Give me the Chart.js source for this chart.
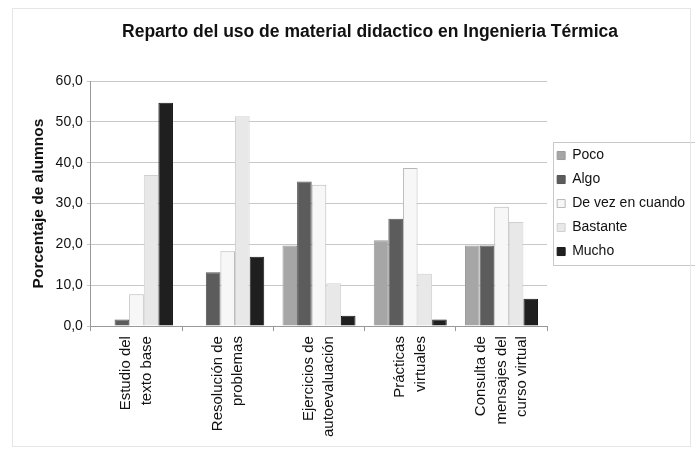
<!DOCTYPE html>
<html>
<head>
<meta charset="utf-8">
<script src="https://cdn.jsdelivr.net/npm/chart.js@4.4.1/dist/chart.umd.min.js"></script>
<style>
  html, body { margin: 0; padding: 0; background: #fff; }
  #wrap { position: relative; width: 695px; height: 450px; }
</style>
</head>
<body>
<div id="wrap"><canvas id="bar" width="695" height="450"></canvas></div>
<script>
// categorias (ejes X), en varias lineas
var actividades = [
  ["Estudio del", "texto base"],
  ["Resolución de", "problemas"],
  ["Ejercicios de", "autoevaluación"],
  ["Prácticas", "virtuales"],
  ["Consulta de", "mensajes del", "curso virtual"]
];

// porcentaje de alumnos por respuesta
var poco      = [0.0, 0.0, 19.7, 21.0, 19.7];
var algo      = [1.6, 13.2, 35.4, 26.3, 19.7];
var deVez     = [7.8, 18.3, 34.6, 38.7, 29.2];
var bastante  = [37.0, 51.4, 10.5, 12.8, 25.5];
var mucho     = [54.7, 17.0, 2.5, 1.6, 6.7];

var tituloGrafico = "Reparto del uso de material didactico en Ingenieria Térmica";
var tituloEjeY = "Porcentaje de alumnos";

var fuente = "'Liberation Sans', Arial, sans-serif";
var fuenteX = 15, altoLineaX = 20.5;

// titulo centrado a mano (no sobre el canvas completo)
var titlePlugin = {
  id: 'tituloManual',
  afterDraw: function (chart) {
    var ctx = chart.ctx;
    ctx.save();
    ctx.font = "bold 17.5px " + fuente;
    ctx.fillStyle = "#111";
    ctx.textAlign = "center";
    ctx.textBaseline = "middle";
    ctx.fillText(tituloGrafico, 370, 32);
    ctx.restore();
  }
};

// etiquetas del eje X giradas, con las lineas centradas sobre cada categoria
var xLabels = {
  id: 'xLabels',
  afterDraw: function (chart) {
    var sc = chart.scales.x;
    var ctx = chart.ctx;
    ctx.save();
    ctx.font = fuenteX + "px " + fuente;
    ctx.fillStyle = "#111";
    ctx.textAlign = "right";
    ctx.textBaseline = "middle";
    actividades.forEach(function (lineas, i) {
      var cx = sc.getPixelForTick(i);
      var top = sc.top + 10;
      lineas.forEach(function (txt, k) {
        var x = cx + (k - (lineas.length - 1) / 2) * altoLineaX;
        ctx.save();
        ctx.translate(x, top);
        ctx.rotate(-Math.PI / 2);
        ctx.fillText(txt, 0, 0);
        ctx.restore();
      });
    });
    ctx.restore();
  }
};

// recuadro alrededor de la leyenda y marco exterior
var legendBox = {
  id: 'legendBox',
  afterDraw: function (chart) {
    var ctx = chart.ctx;
    ctx.save();
    ctx.strokeStyle = "#c8c8c8";
    ctx.lineWidth = 1;
    ctx.strokeRect(553.5, 142.5, 150, 123);
    ctx.strokeStyle = "#e6e6e6";
    ctx.strokeRect(12.5, 8.5, 678, 438);
    ctx.restore();
  }
};

const data = {
  labels: actividades,
  datasets: [{
    label: 'Poco',
    backgroundColor: '#a6a6a6',
    borderColor: '#9a9a9a',
    borderWidth: 1,
    data: poco,
  },{
    label: 'Algo',
    backgroundColor: '#5c5c5c',
    borderColor: '#555555',
    borderWidth: 1,
    data: algo,
  },{
    label: 'De vez en cuando',
    backgroundColor: '#f7f7f7',
    borderColor: '#b8b8b8',
    borderWidth: 1,
    data: deVez,
  },{
    label: 'Bastante',
    backgroundColor: '#e8e8e8',
    borderColor: '#d0d0d0',
    borderWidth: 1,
    data: bastante,
  },{
    label: 'Mucho',
    backgroundColor: '#1f1f1f',
    borderColor: '#1a1a1a',
    borderWidth: 1,
    data: mucho,
  }]
};

const bar = {
  type: 'bar',
  data: data,
  options: {
    responsive: false,
    animation: false,
    layout: {
      padding: { left: 25, right: 0, top: 81, bottom: 10 }
    },
    datasets: {
      bar: { barPercentage: 1.0, categoryPercentage: 0.8 }
    },
    plugins: {
      title: { display: false },
      tooltip: { enabled: false },
      legend: {
        position: 'right',
        fullSize: false,
        labels: {
          color: '#111',
          boxWidth: 8,
          boxHeight: 8,
          padding: 10,
          font: { family: fuente, size: 14 }
        }
      }
    },
    scales: {
      x: {
        grid: {
          offset: true,
          drawOnChartArea: false,
          tickLength: 5,
          color: '#999'
        },
        border: { color: '#999' },
        ticks: {
          // el texto lo dibuja xLabels; aqui solo reserva el espacio
          color: 'rgba(0,0,0,0)',
          minRotation: 90,
          maxRotation: 90,
          autoSkip: false,
          padding: 4,
          font: { family: fuente, size: fuenteX, lineHeight: 1.35 }
        }
      },
      y: {
        min: 0,
        max: 60,
        grid: { color: '#c8c8c8', tickLength: 4 },
        border: { color: '#999' },
        title: {
          display: true,
          text: tituloEjeY,
          color: '#111',
          font: { family: fuente, size: 15.5, weight: 'bold' }
        },
        ticks: {
          stepSize: 10,
          color: '#111',
          padding: 4,
          font: { family: fuente, size: 14 },
          callback: function (v) { return v.toFixed(1).replace('.', ','); }
        }
      }
    }
  },
  plugins: [titlePlugin, legendBox, xLabels]
};

var chart = new Chart(document.getElementById('bar'), bar);
</script>
</body>
</html>
